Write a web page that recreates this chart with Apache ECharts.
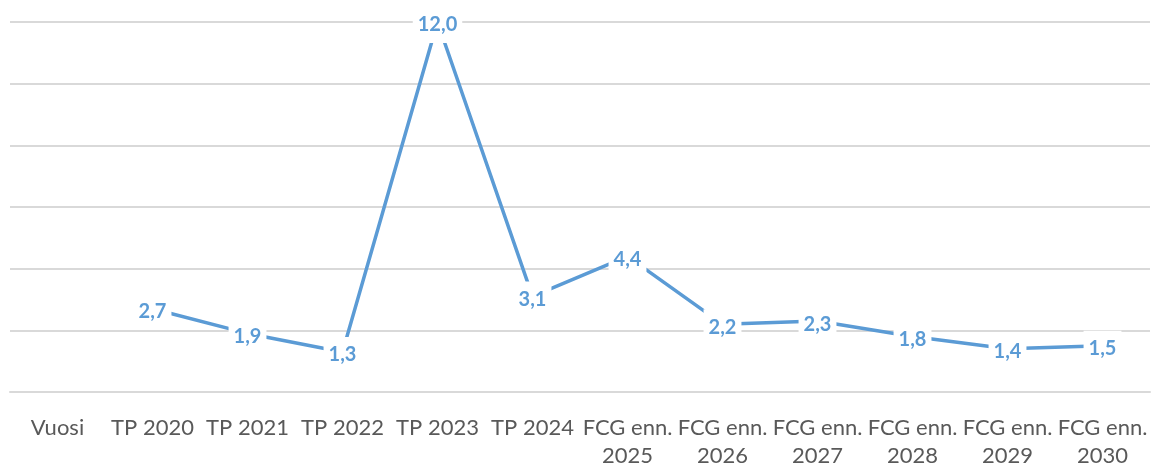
<!DOCTYPE html>
<html>
<head>
<meta charset="utf-8">
<script src="https://cdn.jsdelivr.net/npm/echarts@6/dist/echarts.min.js"></script>
<style>
  html, body { margin: 0; padding: 0; background: #fff; }
  #main { width: 1156px; height: 470px; }
</style>
</head>
<body>
<div id="main"></div>
<script>
var categories = ['Vuosi', 'TP 2020', 'TP 2021', 'TP 2022', 'TP 2023', 'TP 2024',
    'FCG enn.\n2025', 'FCG enn.\n2026', 'FCG enn.\n2027', 'FCG enn.\n2028', 'FCG enn.\n2029', 'FCG enn.\n2030'];
var values = ['-', 2.7, 1.9, 1.3, 12.0, 3.1, 4.4, 2.2, 2.3, 1.8, 1.4, 1.5];
var yMin = 0, yMax = 12, yStep = 2;

var blue = '#5B9BD5';
var myChart = echarts.init(document.getElementById('main'));

var option = {
    animation: false,
    grid: { left: 10, right: 6, top: 22, bottom: 73, containLabel: false },
    xAxis: {
        type: 'category',
        data: categories,
        boundaryGap: true,
        axisLine: { show: true, lineStyle: { color: '#d9d9d9', width: 2 } },
        axisTick: { show: false },
        axisLabel: {
            color: '#595959',
            fontFamily: 'Lato',
            fontSize: 22,
            lineHeight: 28,
            margin: 22,
            interval: 0
        }
    },
    yAxis: {
        type: 'value',
        min: yMin,
        max: yMax,
        interval: yStep,
        axisLine: { show: false },
        axisTick: { show: false },
        axisLabel: { show: false },
        splitLine: { lineStyle: { color: '#d9d9d9', width: 2 } }
    },
    series: [{
        type: 'line',
        data: values,
        symbol: 'circle',
        symbolSize: 1,
        itemStyle: { color: 'rgba(0,0,0,0)' },
        lineStyle: { color: blue, width: 3.5 },
        label: {
            show: true,
            position: 'inside',
            offset: [0, 3],
            color: blue,
            fontFamily: 'Lato',
            fontWeight: 'bold',
            fontSize: 20,
            backgroundColor: '#fff',
            padding: [8, 5, 8, 5],
            formatter: function (p) {
                return p.value.toFixed(1).replace('.', ',');
            }
        }
    }]
};
myChart.setOption(option);
</script>
</body>
</html>
